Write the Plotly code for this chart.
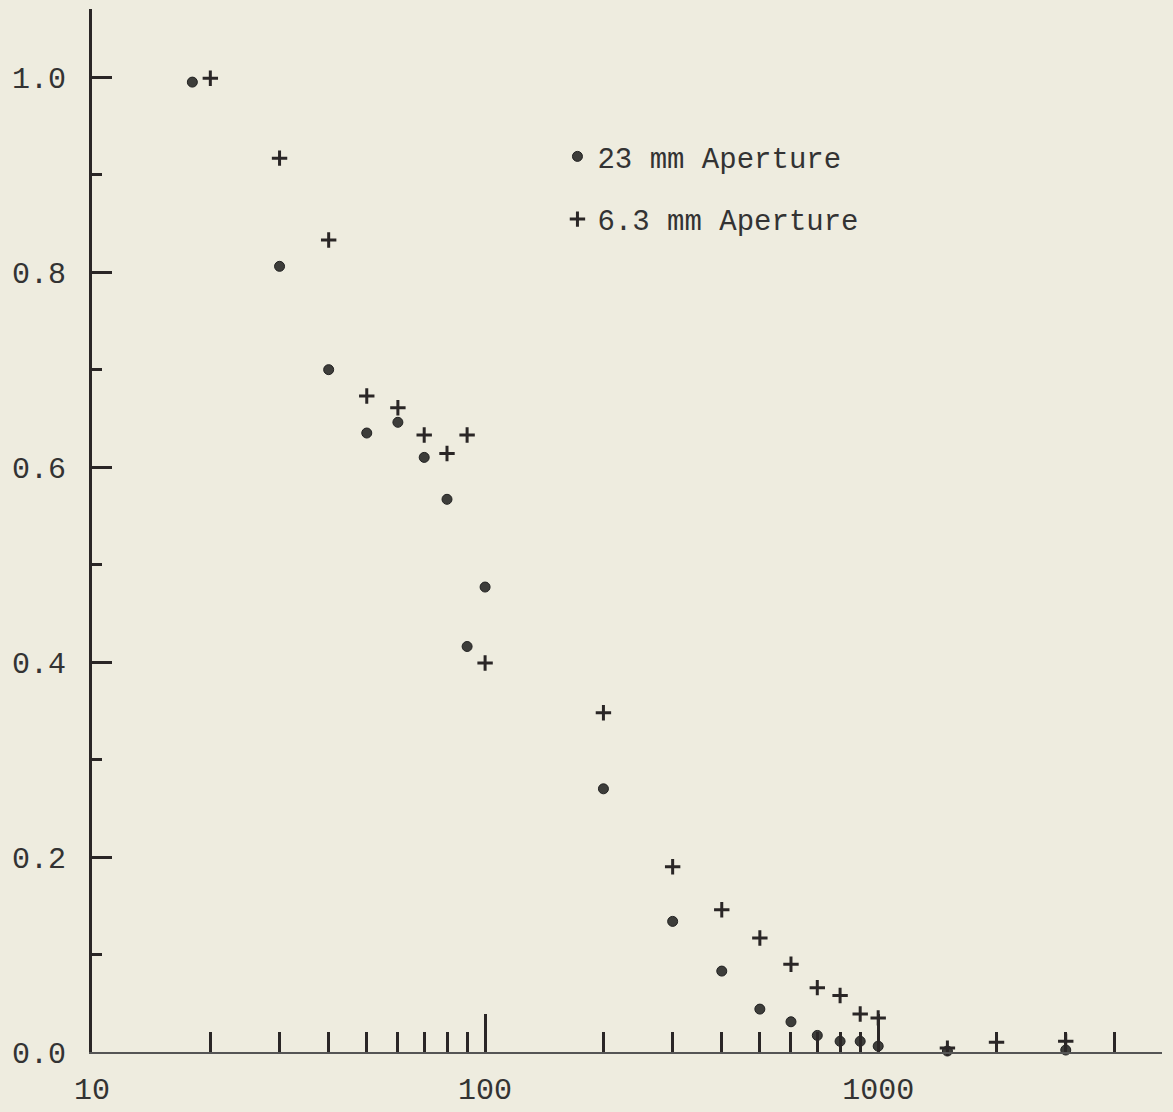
import plotly.graph_objects as go

# Spatial frequency (log scale) and normalised response for the two apertures
freq_23 = [18, 30, 40, 50, 60, 70, 80, 90, 100, 200, 300, 400, 500, 600,
           700, 800, 900, 1000, 1500, 2000, 3000]
resp_23 = [0.995, 0.806, 0.700, 0.635, 0.646, 0.610, 0.567, 0.416, 0.477,
           0.270, 0.134, 0.083, 0.044, 0.031, 0.017, 0.011, 0.011, 0.006,
           0.001, -0.005, 0.002]

freq_63 = [20, 30, 40, 50, 60, 70, 80, 90, 100, 200, 300, 400, 500, 600,
           700, 800, 900, 1000, 1500, 2000, 3000]
resp_63 = [0.999, 0.917, 0.833, 0.673, 0.661, 0.633, 0.614, 0.633, 0.399,
           0.348, 0.190, 0.146, 0.117, 0.090, 0.066, 0.058, 0.039, 0.035,
           0.004, 0.010, 0.011]

x_major = [10, 100, 1000]
x_major_text = ["10", "100", "1000"]
x_minor = [20, 30, 40, 50, 60, 70, 80, 90,
           200, 300, 400, 500, 600, 700, 800, 900,
           2000, 3000, 4000]

label_23 = "23 mm Aperture"
label_63 = "6.3 mm Aperture"

paper = "#eeecdf"
ink = "#2a2626"
font_family = "Liberation Mono, DejaVu Sans Mono, monospace"

fig = go.Figure()
fig.add_trace(go.Scatter(
    x=freq_23, y=resp_23, mode="markers", name=label_23,
    marker=dict(symbol="circle", size=10, color="#3d3d3a",
                line=dict(width=1, color="#222")),
    cliponaxis=False,
    legendgroup="a",
))
fig.add_trace(go.Scatter(
    x=freq_63, y=resp_63, mode="markers", name=label_63,
    marker=dict(symbol="cross-thin", size=11,
                line=dict(width=3, color=ink)),
    cliponaxis=False,
    legendgroup="b",
))

fig.update_layout(
    width=1173, height=1112,
    margin=dict(l=92, r=11, t=9, b=60),
    paper_bgcolor=paper, plot_bgcolor=paper,
    font=dict(family=font_family, size=30, color="#333"),
    showlegend=True,
    legend=dict(
        x=0.435, y=0.883, xanchor="left", yanchor="top",
        bgcolor="rgba(0,0,0,0)", borderwidth=0,
        font=dict(family=font_family, size=29, color="#333"),
        tracegroupgap=22, itemsizing="trace",
    ),
)

fig.update_xaxes(
    type="log", range=[1.0, 3.722], automargin=False,
    showgrid=False, zeroline=False,
    showline=True, linecolor="#555", linewidth=2,
    tickmode="array", tickvals=x_major, ticktext=x_major_text,
    ticks="inside", ticklen=38, tickwidth=3, tickcolor=ink,
    ticklabelstandoff=9,
    tickfont=dict(family=font_family, size=30, color="#333"),
    minor=dict(tickvals=x_minor, ticks="inside", ticklen=20,
               tickwidth=3, tickcolor=ink, showgrid=False),
)

fig.update_yaxes(
    range=[0, 1.07], automargin=False,
    showgrid=False, zeroline=False,
    showline=True, linecolor=ink, linewidth=3,
    tickmode="linear", tick0=0, dtick=0.2, tickformat=".1f",
    ticks="inside", ticklen=20, tickwidth=3, tickcolor=ink,
    ticklabelstandoff=17,
    tickfont=dict(family=font_family, size=30, color="#333"),
    minor=dict(dtick=0.1, ticks="inside", ticklen=10, tickwidth=3,
               tickcolor=ink, showgrid=False),
)

fig.write_html("out.html")
